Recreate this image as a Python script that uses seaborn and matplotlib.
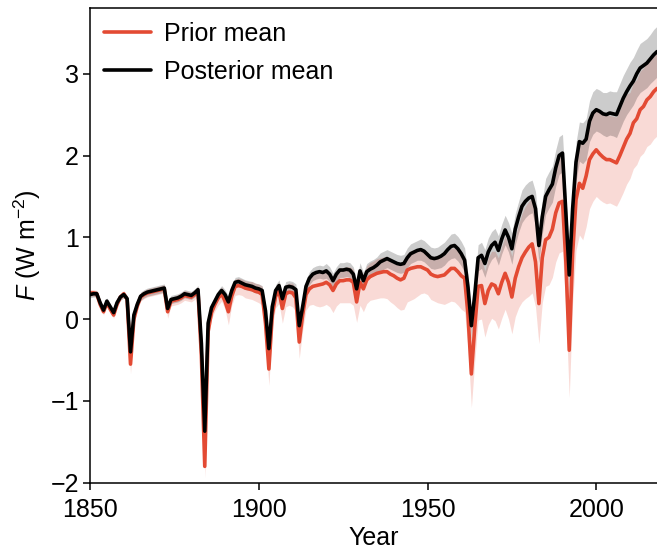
import numpy as np
import pandas as pd
import matplotlib
matplotlib.use("Agg")
import matplotlib.pyplot as plt
import seaborn as sns

years = list(range(1850, 2019))

posterior_mean = [
    0.30, 0.31, 0.31, 0.20, 0.11, 0.22, 0.15, 0.08, 0.20, 0.27,   # 1850s
    0.30, 0.25, -0.40, 0.05, 0.18, 0.28, 0.31, 0.33, 0.34, 0.35,  # 1860s
    0.36, 0.37, 0.38, 0.13, 0.24, 0.25, 0.26, 0.28, 0.31, 0.30,   # 1870s
    0.29, 0.32, 0.36, -0.30, -1.37, -0.05, 0.14, 0.22, 0.30, 0.35,  # 1880s
    0.30, 0.21, 0.35, 0.45, 0.46, 0.44, 0.42, 0.41, 0.40, 0.38,   # 1890s
    0.37, 0.35, 0.10, -0.36, 0.15, 0.35, 0.41, 0.25, 0.39, 0.40,  # 1900s
    0.39, 0.36, -0.08, 0.15, 0.40, 0.50, 0.55, 0.57, 0.58, 0.57,  # 1910s
    0.59, 0.55, 0.47, 0.55, 0.60, 0.60, 0.61, 0.60, 0.55, 0.37,   # 1920s
    0.59, 0.47, 0.58, 0.61, 0.63, 0.66, 0.70, 0.72, 0.74, 0.72,   # 1930s
    0.70, 0.68, 0.67, 0.68, 0.75, 0.80, 0.82, 0.84, 0.85, 0.83,   # 1940s
    0.79, 0.75, 0.74, 0.75, 0.77, 0.80, 0.85, 0.89, 0.90, 0.86,   # 1950s
    0.80, 0.72, 0.39, -0.08, 0.30, 0.75, 0.78, 0.68, 0.82, 0.90,  # 1960s
    0.94, 0.84, 0.98, 1.09, 1.00, 0.86, 1.10, 1.25, 1.38, 1.44,   # 1970s
    1.48, 1.50, 1.35, 0.90, 1.25, 1.50, 1.58, 1.65, 1.85, 2.00,   # 1980s
    2.03, 1.30, 0.54, 1.35, 1.92, 2.17, 2.15, 2.20, 2.42, 2.52,   # 1990s
    2.56, 2.54, 2.51, 2.50, 2.52, 2.51, 2.50, 2.60, 2.70, 2.78,   # 2000s
    2.85, 2.91, 3.00, 3.07, 3.10, 3.13, 3.18, 3.23, 3.27,         # 2010s
]

prior_mean = [
    0.32, 0.32, 0.31, 0.18, 0.09, 0.20, 0.12, 0.05, 0.18, 0.27,   # 1850s
    0.31, 0.24, -0.55, 0.00, 0.16, 0.27, 0.30, 0.32, 0.33, 0.34,  # 1860s
    0.35, 0.36, 0.37, 0.09, 0.22, 0.23, 0.24, 0.26, 0.29, 0.28,   # 1870s
    0.27, 0.30, 0.34, -0.45, -1.80, -0.15, 0.08, 0.18, 0.26, 0.31,  # 1880s
    0.22, 0.09, 0.28, 0.40, 0.41, 0.40, 0.38, 0.37, 0.36, 0.34,   # 1890s
    0.33, 0.30, -0.05, -0.61, 0.05, 0.28, 0.34, 0.13, 0.31, 0.33,  # 1900s
    0.32, 0.26, -0.28, 0.05, 0.30, 0.37, 0.40, 0.41, 0.42, 0.43,  # 1910s
    0.45, 0.42, 0.35, 0.43, 0.47, 0.47, 0.48, 0.48, 0.45, 0.21,   # 1920s
    0.45, 0.37, 0.48, 0.52, 0.54, 0.56, 0.57, 0.58, 0.58, 0.55,   # 1930s
    0.53, 0.50, 0.48, 0.50, 0.60, 0.62, 0.63, 0.64, 0.64, 0.62,   # 1940s
    0.60, 0.55, 0.53, 0.52, 0.53, 0.54, 0.58, 0.62, 0.62, 0.58,   # 1950s
    0.53, 0.50, 0.05, -0.67, -0.10, 0.40, 0.41, 0.19, 0.35, 0.43,  # 1960s
    0.41, 0.31, 0.45, 0.56, 0.45, 0.27, 0.50, 0.64, 0.75, 0.82,   # 1970s
    0.88, 0.92, 0.70, 0.19, 0.75, 0.97, 1.00, 1.10, 1.30, 1.42,   # 1980s
    1.44, 0.70, -0.38, 0.80, 1.46, 1.66, 1.60, 1.75, 1.95, 2.02,  # 1990s
    2.07, 2.02, 1.98, 1.95, 1.95, 1.93, 1.91, 2.00, 2.10, 2.20,   # 2000s
    2.27, 2.40, 2.45, 2.56, 2.60, 2.68, 2.72, 2.78, 2.82,         # 2010s
]

# half-width of the posterior band
posterior_halfwidth = [
    0.04, 0.04, 0.04, 0.04, 0.04, 0.04, 0.04, 0.04, 0.04, 0.04,
    0.04, 0.04, 0.06, 0.05, 0.04, 0.05, 0.05, 0.05, 0.05, 0.05,
    0.05, 0.05, 0.05, 0.06, 0.05, 0.05, 0.05, 0.05, 0.05, 0.05,
    0.05, 0.05, 0.05, 0.07, 0.08, 0.06, 0.06, 0.06, 0.06, 0.06,
    0.06, 0.07, 0.06, 0.06, 0.06, 0.06, 0.06, 0.06, 0.06, 0.06,
    0.06, 0.06, 0.07, 0.08, 0.07, 0.07, 0.07, 0.07, 0.07, 0.07,
    0.07, 0.07, 0.08, 0.08, 0.08, 0.08, 0.08, 0.08, 0.08, 0.08,
    0.09, 0.09, 0.09, 0.09, 0.09, 0.09, 0.09, 0.09, 0.09, 0.10,
    0.10, 0.10, 0.10, 0.10, 0.10, 0.10, 0.11, 0.11, 0.11, 0.11,
    0.11, 0.11, 0.11, 0.11, 0.12, 0.12, 0.12, 0.12, 0.13, 0.13,
    0.13, 0.13, 0.13, 0.13, 0.14, 0.14, 0.14, 0.15, 0.15, 0.15,
    0.15, 0.15, 0.15, 0.16, 0.16, 0.16, 0.16, 0.17, 0.17, 0.17,
    0.17, 0.18, 0.18, 0.18, 0.18, 0.19, 0.19, 0.19, 0.20, 0.20,
    0.20, 0.20, 0.21, 0.21, 0.21, 0.22, 0.22, 0.22, 0.22, 0.23,
    0.23, 0.23, 0.23, 0.24, 0.24, 0.24, 0.25, 0.25, 0.25, 0.26,
    0.26, 0.26, 0.26, 0.27, 0.27, 0.27, 0.28, 0.28, 0.28, 0.28,
    0.29, 0.29, 0.29, 0.30, 0.30, 0.30, 0.30, 0.31, 0.31,
]

# extent of the prior band above / below the prior mean
prior_up = [
    0.04, 0.04, 0.04, 0.04, 0.04, 0.04, 0.04, 0.04, 0.04, 0.04,
    0.04, 0.04, 0.10, 0.05, 0.05, 0.05, 0.05, 0.05, 0.05, 0.05,
    0.05, 0.05, 0.05, 0.08, 0.05, 0.05, 0.06, 0.06, 0.06, 0.06,
    0.06, 0.06, 0.06, 0.12, 0.20, 0.10, 0.08, 0.08, 0.08, 0.08,
    0.09, 0.10, 0.09, 0.09, 0.09, 0.09, 0.09, 0.09, 0.10, 0.10,
    0.10, 0.10, 0.14, 0.20, 0.12, 0.11, 0.11, 0.13, 0.11, 0.11,
    0.12, 0.12, 0.18, 0.14, 0.13, 0.14, 0.15, 0.15, 0.15, 0.15,
    0.15, 0.15, 0.16, 0.15, 0.16, 0.16, 0.16, 0.16, 0.16, 0.20,
    0.17, 0.17, 0.17, 0.17, 0.17, 0.18, 0.18, 0.18, 0.19, 0.19,
    0.19, 0.20, 0.20, 0.20, 0.20, 0.21, 0.21, 0.22, 0.22, 0.22,
    0.22, 0.22, 0.23, 0.23, 0.23, 0.24, 0.24, 0.25, 0.25, 0.26,
    0.26, 0.27, 0.32, 0.45, 0.36, 0.32, 0.33, 0.40, 0.40, 0.40,
    0.42, 0.44, 0.44, 0.45, 0.46, 0.50, 0.50, 0.52, 0.54, 0.56,
    0.56, 0.56, 0.58, 0.62, 0.54, 0.54, 0.56, 0.57, 0.57, 0.58,
    0.58, 0.62, 0.70, 0.58, 0.52, 0.52, 0.53, 0.53, 0.52, 0.52,
    0.52, 0.52, 0.53, 0.54, 0.54, 0.55, 0.56, 0.56, 0.56, 0.55,
    0.50, 0.49, 0.48, 0.47, 0.47, 0.46, 0.46, 0.45, 0.45,
]

prior_down = [
    0.04, 0.04, 0.04, 0.04, 0.04, 0.04, 0.04, 0.04, 0.04, 0.04,
    0.04, 0.05, 0.12, 0.06, 0.05, 0.05, 0.05, 0.05, 0.05, 0.05,
    0.05, 0.05, 0.05, 0.08, 0.06, 0.06, 0.06, 0.06, 0.06, 0.06,
    0.06, 0.06, 0.06, 0.10, 0.14, 0.10, 0.08, 0.08, 0.09, 0.09,
    0.10, 0.16, 0.11, 0.11, 0.11, 0.11, 0.12, 0.12, 0.12, 0.12,
    0.13, 0.13, 0.16, 0.20, 0.15, 0.14, 0.15, 0.18, 0.16, 0.16,
    0.17, 0.17, 0.20, 0.19, 0.19, 0.20, 0.22, 0.25, 0.27, 0.27,
    0.27, 0.27, 0.27, 0.27, 0.27, 0.27, 0.28, 0.28, 0.28, 0.25,
    0.28, 0.28, 0.29, 0.29, 0.30, 0.31, 0.31, 0.32, 0.33, 0.34,
    0.35, 0.36, 0.37, 0.38, 0.39, 0.39, 0.38, 0.36, 0.33, 0.30,
    0.30, 0.31, 0.31, 0.32, 0.34, 0.36, 0.38, 0.40, 0.41, 0.41,
    0.41, 0.41, 0.41, 0.41, 0.41, 0.41, 0.41, 0.41, 0.42, 0.42,
    0.43, 0.43, 0.44, 0.44, 0.45, 0.45, 0.47, 0.50, 0.54, 0.57,
    0.60, 0.60, 0.55, 0.49, 0.55, 0.57, 0.58, 0.59, 0.60, 0.61,
    0.61, 0.60, 0.58, 0.60, 0.62, 0.63, 0.63, 0.62, 0.60, 0.58,
    0.57, 0.56, 0.55, 0.54, 0.53, 0.53, 0.53, 0.54, 0.55, 0.55,
    0.55, 0.56, 0.56, 0.57, 0.57, 0.57, 0.58, 0.58, 0.58,
]

x_ticks = [1850, 1900, 1950, 2000]
y_ticks = [-2, -1, 0, 1, 2, 3]
labels = ["Prior mean", "Posterior mean"]

RED = "#e34a33"
FS = 18

sns.set_theme(style="ticks")
plt.rcParams["font.family"] = ["Liberation Sans", "DejaVu Sans"]
plt.rcParams["mathtext.fontset"] = "custom"
plt.rcParams["mathtext.rm"] = "Liberation Sans"
plt.rcParams["mathtext.it"] = "Liberation Sans:italic"
plt.rcParams["text.color"] = "black"
plt.rcParams["axes.labelcolor"] = "black"

df = pd.DataFrame({
    "Year": years,
    "prior": prior_mean,
    "post": posterior_mean,
})
pm = np.array(prior_mean)
qm = np.array(posterior_mean)
qh = np.array(posterior_halfwidth)

fig = plt.figure(figsize=(6.57, 5.52), dpi=100)
ax = fig.add_axes([0.137, 0.1255, 0.863, 0.8595])

ax.fill_between(years, pm - np.array(prior_down), pm + np.array(prior_up),
                color=RED, alpha=0.2, linewidth=0)
ax.fill_between(years, qm - qh, qm + qh, color="black", alpha=0.2, linewidth=0)

sns.lineplot(data=df, x="Year", y="prior", ax=ax, color=RED, linewidth=2.6,
             label=labels[0])
sns.lineplot(data=df, x="Year", y="post", ax=ax, color="black", linewidth=2.6,
             label=labels[1])

ax.set_xlim(1850, 2018)
ax.set_ylim(-2, 3.8)
ax.set_xticks(x_ticks)
ax.set_yticks(y_ticks)
ax.tick_params(axis="both", labelsize=FS, length=5, width=1.1, colors="black",
               direction="out")
ax.tick_params(axis="x", pad=6)
ax.tick_params(axis="y", pad=3)
ax.set_xlabel("Year", fontsize=FS, labelpad=3)
ax.set_ylabel(r"$\it{F}$ (W m$^{-2}$)", fontsize=FS, labelpad=5)
for s in ["left", "bottom", "top"]:
    ax.spines[s].set_color("black")
    ax.spines[s].set_linewidth(1.1)
ax.spines["right"].set_visible(False)

leg = ax.legend(loc="upper left", frameon=False, fontsize=FS,
                handlelength=1.9, labelspacing=0.55, borderaxespad=0.3,
                borderpad=0.25, handletextpad=0.5)

fig.savefig("out.png", dpi=100)
